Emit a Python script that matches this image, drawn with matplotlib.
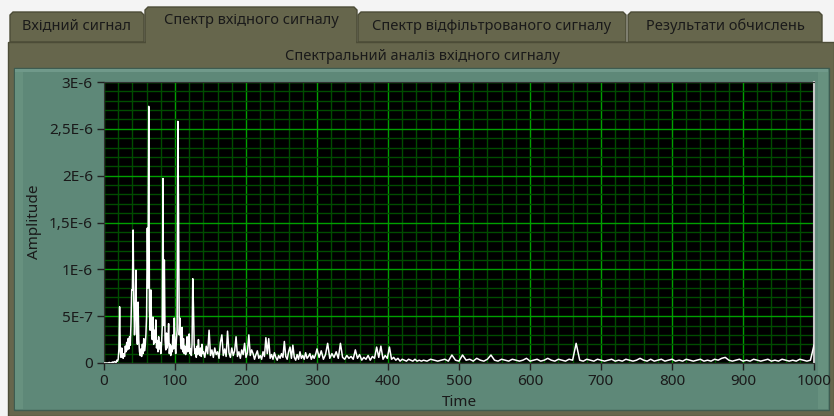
import numpy as np
import matplotlib.pyplot as plt
from matplotlib.patches import Rectangle, Polygon
from matplotlib.ticker import MultipleLocator

plt.rcParams['font.family'] = ['Noto Sans', 'DejaVu Sans']

# Амплітуди спектру (в одиницях 1E-7)
amp_0_139 = [  # крок 1
    0, 0, 0, 0, 0, 0, 0, 0.05, 0.05, 0, 0, 0.05, 0.1, 0.05, 0.1, 0.15, 0.1, 0.05, 0.3, 0.2,
    0.4, 1.5, 6.0, 1.2, 0.6, 1.6, 0.8, 0.5, 1.0, 0.7, 1.8, 1.2, 2.2, 1.4, 2.6, 1.5, 2.8, 1.9, 4.2, 7.8,
    7.8, 14.2, 6.5, 3.0, 5.5, 9.9, 3.2, 2.0, 6.5, 2.5, 1.2, 0.8, 1.5, 0.7, 2.0, 1.0, 2.6, 1.3, 1.8, 3.0,
    5.0, 14.4, 8.0, 27.4, 5.6, 3.5, 7.8, 4.0, 2.5, 4.9, 2.0, 3.5, 2.2, 4.6, 1.6, 2.4, 1.2, 2.8, 1.5, 2.2,
    1.0, 2.0, 3.8, 19.7, 4.0, 11.0, 2.5, 1.4, 3.2, 1.6, 2.2, 4.2, 1.0, 2.0, 0.8, 1.8, 1.2, 3.0, 1.5, 4.8,
    2.0, 1.0, 2.5, 3.5, 25.8, 15.8, 3.0, 4.8, 2.2, 1.5, 3.8, 1.2, 2.6, 1.0, 1.8, 0.9, 1.5, 2.8, 1.2, 1.6,
    3.1, 1.0, 1.5, 0.8, 2.0, 9.0, 6.0, 2.0, 1.0, 1.5, 0.6, 1.8, 0.9, 2.5, 1.2, 0.8, 1.6, 0.7, 2.0, 1.0,
]
amp_140_298 = [  # крок 2
    1.2, 0.6, 1.8, 1.0, 3.5, 0.8, 1.4, 0.6, 1.6, 0.9, 1.2, 0.5, 2.2, 3.0, 0.8, 1.5, 0.7, 3.4, 1.1, 0.6,
    1.6, 0.8, 1.3, 2.8, 0.7, 1.2, 0.5, 1.4, 0.9, 2.1, 0.6, 1.1, 3.0, 0.8, 1.4, 1.0, 0.4, 0.9, 1.3, 0.5,
    0.8, 0.4, 1.2, 0.7, 2.7, 1.0, 2.6, 0.5, 0.9, 0.4, 1.1, 0.6, 0.3, 0.8, 0.5, 1.0, 0.6, 2.3, 0.7, 0.4,
    1.2, 1.7, 0.5, 1.9, 0.6, 0.3, 0.9, 0.4, 1.2, 0.5, 0.8, 0.4, 1.1, 0.5, 0.7, 1.0, 0.4, 0.8, 0.5, 0.9,
]
amp_300_447 = [  # крок 3
    1.5, 0.6, 1.3, 0.4, 0.9, 2.1, 0.5, 1.0, 0.6, 1.2, 0.5, 2.1, 0.6, 0.4, 0.8, 0.5, 0.7, 0.4, 1.4, 0.5,
    0.9, 0.3, 0.6, 0.4, 0.8, 0.3, 0.7, 0.5, 1.7, 0.6, 1.8, 0.4, 0.8, 0.5, 1.7, 0.4, 0.6, 0.3, 0.5, 0.2,
    0.4, 0.3, 0.2, 0.4, 0.3, 0.2, 0.4, 0.2, 0.3, 0.2,
]
amp_450_1000 = [  # крок 5
    0.3, 0.2, 0.4, 0.3, 0.2, 0.3, 0.4, 0.2, 0.85, 0.3, 0.2, 0.85, 0.3, 0.4, 0.2, 0.5, 0.3, 0.2, 0.4, 0.85,
    0.3, 0.2, 0.4, 0.3, 0.2, 0.4, 0.3, 0.2, 0.3, 0.5, 0.2, 0.3, 0.4, 0.2, 0.3, 0.5, 0.3, 0.2, 0.4, 0.3,
    0.2, 0.4, 0.3, 2.1, 0.3, 0.2, 0.4, 0.3, 0.2, 0.4, 0.3, 0.2, 0.3, 0.4, 0.2, 0.3, 0.2, 0.4, 0.3, 0.2,
    0.3, 0.5, 0.3, 0.2, 0.4, 0.2, 0.3, 0.4, 0.2, 0.3, 0.4, 0.2, 0.3, 0.2, 0.4, 0.3, 0.2, 0.3, 0.4, 0.2,
    0.3, 0.2, 0.4, 0.3, 0.5, 0.6, 0.3, 0.2, 0.3, 0.4, 0.2, 0.3, 0.2, 0.4, 0.3, 0.2, 0.3, 0.4, 0.2, 0.3,
    0.2, 0.4, 0.3, 0.2, 0.3, 0.2, 0.4, 0.3, 0.2, 0.3, 1.9,
]

tab_names = ['Вхідний сигнал', 'Спектр вхідного сигналу',
             'Спектр відфільтрованого сигналу', 'Результати обчислень']
selected_tab = 1
title = 'Спектральний аналіз вхідного сигналу'

y_ticks = [0, 5e-7, 1e-6, 1.5e-6, 2e-6, 2.5e-6, 3e-6]
y_labels = ['0', '5E-7', '1E-6', '1,5E-6', '2E-6', '2,5E-6', '3E-6']
x_ticks = [0, 100, 200, 300, 400, 500, 600, 700, 800, 900, 1000]

freq = np.concatenate([np.arange(0, 140, 1), np.arange(140, 300, 2),
                       np.arange(300, 450, 3), np.arange(450, 1001, 5)])
amp = np.array(amp_0_139 + amp_140_298 + amp_300_447 + amp_450_1000) * 1e-7

W, H = 834, 416
fig = plt.figure(figsize=(W / 100, H / 100), dpi=100)
fig.patch.set_facecolor('#f4f4f4')

# фон панелі в піксельних координатах
bg = fig.add_axes([0, 0, 1, 1], zorder=0)
bg.set_xlim(0, W)
bg.set_ylim(H, 0)
bg.axis('off')

olive = '#66664c'
olive_dark = '#4c4c37'
teal = '#5e8878'

tabs = [(10, 144), (145, 357), (358, 626), (628, 822)]
for i, (x0, x1) in enumerate(tabs):
    top = 7 if i == selected_tab else 12
    poly = Polygon([(x0, 42), (x0, top + 3), (x0 + 3, top), (x1 - 3, top), (x1, top + 3), (x1, 42)],
                   closed=True, facecolor=olive, edgecolor=olive_dark, lw=1, zorder=2 if i == selected_tab else 1)
    bg.add_patch(poly)
    bg.text((x0 + x1) / 2, top + 14, tab_names[i], ha='center', va='center',
            fontsize=10.5, color='#1a1a1a', zorder=4)

bg.add_patch(Rectangle((8, 42), W - 8, H - 42, facecolor=olive, edgecolor=olive_dark, lw=1, zorder=1.5))
# прибрати лінію під вибраною вкладкою
x0, x1 = tabs[selected_tab]
bg.add_patch(Rectangle((x0 + 1, 38), x1 - x0 - 2, 6, facecolor=olive, edgecolor='none', zorder=3))
bg.text(W / 2 + 5, 57, title, ha='center', va='center', fontsize=10.5, color='#1a1a1a', zorder=4)

# рамка графіка
bg.add_patch(Rectangle((14, 68), 815, 342, facecolor=teal, edgecolor='#3e5c51', lw=1, zorder=3))
bg.add_patch(Rectangle((15, 69), 8, 340, facecolor='#67917f', edgecolor='none', zorder=3))
bg.add_patch(Rectangle((818, 69), 10, 340, facecolor='#67917f', edgecolor='none', zorder=3))
bg.add_patch(Rectangle((15, 69), 813, 3, facecolor='#70998a', edgecolor='none', zorder=3))

bg.text(35, 222, 'Amplitude', rotation=90, ha='center', va='center', fontsize=11, color='#1a1a1a', zorder=4)
bg.text(459, 402, 'Time', ha='center', va='center', fontsize=11, color='#1a1a1a', zorder=4)

ax = fig.add_axes([104 / W, (H - 363) / H, 710 / W, 281 / H], zorder=5)
ax.set_facecolor('black')
ax.plot(freq, amp, color='white', lw=1.1, zorder=3)
ax.set_xlim(0, 1000)
ax.set_ylim(0, 3e-6)

ax.set_xticks(x_ticks)
ax.set_xticklabels([str(v) for v in x_ticks])
ax.set_yticks(y_ticks)
ax.set_yticklabels(y_labels)
ax.xaxis.set_minor_locator(MultipleLocator(20))
ax.yaxis.set_minor_locator(MultipleLocator(1e-7))
ax.grid(which='minor', color='#004c00', lw=1)
ax.grid(which='major', color='#00a000', lw=1)
ax.set_axisbelow(True)
ax.tick_params(which='major', direction='out', length=5, width=1, color='#202020',
               labelsize=11, labelcolor='#1a1a1a', pad=3)
ax.tick_params(which='minor', length=0)

for s in ['left', 'top', 'bottom']:
    ax.spines[s].set_color('#303030')
ax.spines['right'].set_color('#c8c8c8')
ax.spines['right'].set_linewidth(1.5)

plt.savefig('out.png', dpi=100, facecolor=fig.get_facecolor())
